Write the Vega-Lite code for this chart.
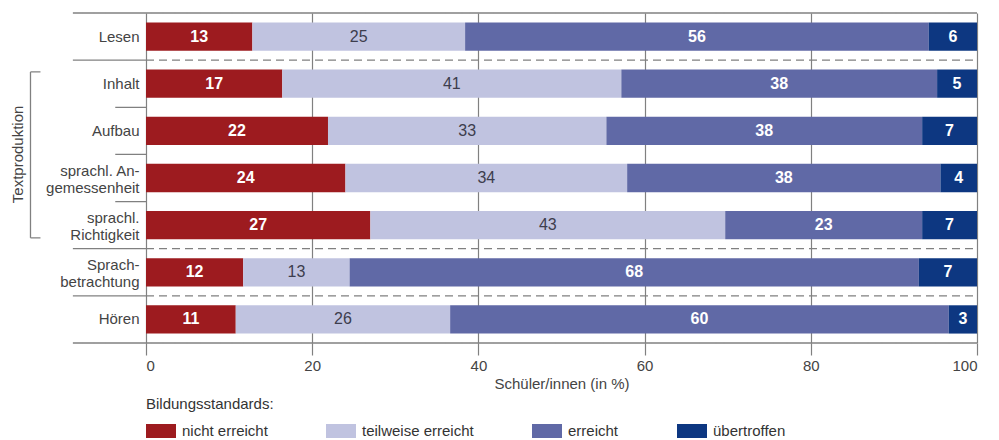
{
  "$schema": "https://vega.github.io/schema/vega-lite/v6.json",
  "width": 831,
  "height": 330,
  "autosize": {"type": "none"},
  "padding": {"left": 146, "top": 13, "right": 22, "bottom": 97},
  "background": "white",
  "config": {"font": "Liberation Sans", "view": {"stroke": null}},
  "datasets": {
    "bars": [
      {"row": "Lesen", "category": "nicht erreicht", "order": 1, "value": 12.8, "label": 13},
      {"row": "Lesen", "category": "teilweise erreicht", "order": 2, "value": 25.6, "label": 25},
      {"row": "Lesen", "category": "erreicht", "order": 3, "value": 55.8, "label": 56},
      {"row": "Lesen", "category": "übertroffen", "order": 4, "value": 5.8, "label": 6},
      {"row": "Inhalt", "category": "nicht erreicht", "order": 1, "value": 16.4, "label": 17},
      {"row": "Inhalt", "category": "teilweise erreicht", "order": 2, "value": 40.8, "label": 41},
      {"row": "Inhalt", "category": "erreicht", "order": 3, "value": 38.0, "label": 38},
      {"row": "Inhalt", "category": "übertroffen", "order": 4, "value": 4.8, "label": 5},
      {"row": "Aufbau", "category": "nicht erreicht", "order": 1, "value": 21.9, "label": 22},
      {"row": "Aufbau", "category": "teilweise erreicht", "order": 2, "value": 33.5, "label": 33},
      {"row": "Aufbau", "category": "erreicht", "order": 3, "value": 38.0, "label": 38},
      {"row": "Aufbau", "category": "übertroffen", "order": 4, "value": 6.6, "label": 7},
      {"row": "sprachl. Angemessenheit", "category": "nicht erreicht", "order": 1, "value": 24.0, "label": 24},
      {"row": "sprachl. Angemessenheit", "category": "teilweise erreicht", "order": 2, "value": 33.9, "label": 34},
      {"row": "sprachl. Angemessenheit", "category": "erreicht", "order": 3, "value": 37.7, "label": 38},
      {"row": "sprachl. Angemessenheit", "category": "übertroffen", "order": 4, "value": 4.4, "label": 4},
      {"row": "sprachl. Richtigkeit", "category": "nicht erreicht", "order": 1, "value": 27.0, "label": 27},
      {"row": "sprachl. Richtigkeit", "category": "teilweise erreicht", "order": 2, "value": 42.7, "label": 43},
      {"row": "sprachl. Richtigkeit", "category": "erreicht", "order": 3, "value": 23.7, "label": 23},
      {"row": "sprachl. Richtigkeit", "category": "übertroffen", "order": 4, "value": 6.6, "label": 7},
      {"row": "Sprachbetrachtung", "category": "nicht erreicht", "order": 1, "value": 11.7, "label": 12},
      {"row": "Sprachbetrachtung", "category": "teilweise erreicht", "order": 2, "value": 12.8, "label": 13},
      {"row": "Sprachbetrachtung", "category": "erreicht", "order": 3, "value": 68.5, "label": 68},
      {"row": "Sprachbetrachtung", "category": "übertroffen", "order": 4, "value": 7.0, "label": 7},
      {"row": "Hören", "category": "nicht erreicht", "order": 1, "value": 10.8, "label": 11},
      {"row": "Hören", "category": "teilweise erreicht", "order": 2, "value": 25.8, "label": 26},
      {"row": "Hören", "category": "erreicht", "order": 3, "value": 60.0, "label": 60},
      {"row": "Hören", "category": "übertroffen", "order": 4, "value": 3.4, "label": 3}
    ],
    "lines": [
      {"pos": 0, "x0": -8.8, "x1": 100, "style": "solid"},
      {"pos": 1, "x0": -8.8, "x1": 0, "style": "solid"},
      {"pos": 1, "x0": 0, "x1": 100, "style": "dashed"},
      {"pos": 2, "x0": -3.7, "x1": 0, "style": "solid"},
      {"pos": 3, "x0": -3.7, "x1": 0, "style": "solid"},
      {"pos": 4, "x0": -3.7, "x1": 0, "style": "solid"},
      {"pos": 5, "x0": -8.8, "x1": 0, "style": "solid"},
      {"pos": 5, "x0": 0, "x1": 100, "style": "dashed"},
      {"pos": 6, "x0": -8.8, "x1": 0, "style": "solid"},
      {"pos": 6, "x0": 0, "x1": 100, "style": "dashed"},
      {"pos": 7, "x0": -8.8, "x1": 100, "style": "solid"},
      {"pos": 1.25, "x0": -13.9, "x1": -12.7, "style": "solid"},
      {"pos": 4.77, "x0": -13.9, "x1": -12.7, "style": "solid"}
    ],
    "bracket": [{"x": -13.9, "pos0": 1.25, "pos1": 4.77}],
    "group": [{"text": "Textproduktion", "x": -15.4, "pos": 3.0}]
  },
  "resolve": {"scale": {"y": "independent"}},
  "layer": [
    {
      "data": {"name": "bars"},
      "layer": [
        {
          "mark": {"type": "bar"},
          "encoding": {
            "y": {
              "field": "row", "type": "nominal",
              "sort": ["Lesen", "Inhalt", "Aufbau", "sprachl. Angemessenheit", "sprachl. Richtigkeit", "Sprachbetrachtung", "Hören"],
              "scale": {"paddingInner": 0.4, "paddingOuter": 0.2},
              "axis": {
                "title": null, "ticks": false, "domain": false, "labelFontSize": 15, "labelColor": "#444444",
                "labelPadding": 7, "labelLimit": 300, "labelLineHeight": 17,
                "labelOffset": {"condition": {"test": "datum.value == 'sprachl. Angemessenheit' || datum.value == 'sprachl. Richtigkeit' || datum.value == 'Sprachbetrachtung'", "value": -7}, "value": 0},
                "labelExpr": "datum.label == 'sprachl. Angemessenheit' ? ['sprachl. An-', 'gemessenheit'] : datum.label == 'sprachl. Richtigkeit' ? ['sprachl.', 'Richtigkeit'] : datum.label == 'Sprachbetrachtung' ? ['Sprach-', 'betrachtung'] : datum.label"
              }
            },
            "x": {
              "field": "value", "type": "quantitative", "stack": "zero",
              "scale": {"domain": [0, 100], "nice": false},
              "axis": {
                "title": "Schüler/innen (in %)", "values": [0, 20, 40, 60, 80, 100], "grid": true,
                "gridColor": "#808080", "gridWidth": 1.2, "tickColor": "#808080", "tickWidth": 1.2, "tickSize": 12,
                "domain": false, "labelFontSize": 15, "labelColor": "#444444", "labelPadding": 3,
                "titleFontSize": 15, "titleFontWeight": "normal", "titleColor": "#444444", "titlePadding": 3
              }
            },
            "color": {
              "field": "category", "type": "nominal",
              "scale": {"domain": ["nicht erreicht", "teilweise erreicht", "erreicht", "übertroffen"], "range": ["#9d1b1f", "#c0c3e0", "#6069a6", "#0d3781"]},
              "legend": {
                "title": "Bildungsstandards:", "orient": "none", "legendX": 0, "legendY": 384, "direction": "horizontal",
                "titleFontSize": 15, "titleFontWeight": "normal", "titleColor": "#333333", "titlePadding": 9,
                "labelFontSize": 15, "labelColor": "#333333", "labelOffset": 16, "columnPadding": 58,
                "symbolType": "M-1,-0.7L2,-0.7L2,0.7L-1,0.7Z", "symbolSize": 400, "symbolStrokeWidth": 0, "symbolOpacity": 1
              }
            },
            "order": {"field": "order"}
          }
        },
        {
          "transform": [
            {"stack": "value", "groupby": ["row"], "sort": [{"field": "order"}], "as": ["v0", "v1"]},
            {"calculate": "(datum.v0 + datum.v1) / 2", "as": "mid"},
            {"filter": "datum.category != 'teilweise erreicht'"}
          ],
          "mark": {"type": "text", "color": "white", "fontWeight": "bold", "fontSize": 16, "baseline": "middle"},
          "encoding": {
            "y": {"field": "row", "type": "nominal", "sort": ["Lesen", "Inhalt", "Aufbau", "sprachl. Angemessenheit", "sprachl. Richtigkeit", "Sprachbetrachtung", "Hören"]},
            "x": {"field": "mid", "type": "quantitative", "scale": {"domain": [0, 100], "nice": false},
              "axis": {
                "title": "Schüler/innen (in %)", "values": [0, 20, 40, 60, 80, 100], "grid": true,
                "gridColor": "#808080", "gridWidth": 1.2, "tickColor": "#808080", "tickWidth": 1.2, "tickSize": 12,
                "domain": false, "labelFontSize": 15, "labelColor": "#444444", "labelPadding": 3,
                "titleFontSize": 15, "titleFontWeight": "normal", "titleColor": "#444444", "titlePadding": 3
              }},
            "text": {"field": "label"}
          }
        },
        {
          "transform": [
            {"stack": "value", "groupby": ["row"], "sort": [{"field": "order"}], "as": ["v0", "v1"]},
            {"calculate": "(datum.v0 + datum.v1) / 2", "as": "mid"},
            {"filter": "datum.category == 'teilweise erreicht'"}
          ],
          "mark": {"type": "text", "color": "#3d3d4d", "fontSize": 16, "baseline": "middle"},
          "encoding": {
            "y": {"field": "row", "type": "nominal", "sort": ["Lesen", "Inhalt", "Aufbau", "sprachl. Angemessenheit", "sprachl. Richtigkeit", "Sprachbetrachtung", "Hören"]},
            "x": {"field": "mid", "type": "quantitative", "scale": {"domain": [0, 100], "nice": false},
              "axis": {
                "title": "Schüler/innen (in %)", "values": [0, 20, 40, 60, 80, 100], "grid": true,
                "gridColor": "#808080", "gridWidth": 1.2, "tickColor": "#808080", "tickWidth": 1.2, "tickSize": 12,
                "domain": false, "labelFontSize": 15, "labelColor": "#444444", "labelPadding": 3,
                "titleFontSize": 15, "titleFontWeight": "normal", "titleColor": "#444444", "titlePadding": 3
              }},
            "text": {"field": "label"}
          }
        }
      ]
    },
    {
      "data": {"name": "lines"},
      "mark": {"type": "rule", "color": "#808080", "strokeWidth": 1.3},
      "encoding": {
        "y": {"field": "pos", "type": "quantitative", "scale": {"domain": [0, 7], "reverse": true, "nice": false, "zero": false}, "axis": null},
        "x": {"field": "x0", "type": "quantitative", "scale": {"domain": [0, 100], "nice": false},
          "axis": {
            "title": "Schüler/innen (in %)", "values": [0, 20, 40, 60, 80, 100], "grid": true,
            "gridColor": "#808080", "gridWidth": 1.2, "tickColor": "#808080", "tickWidth": 1.2, "tickSize": 12,
            "domain": false, "labelFontSize": 15, "labelColor": "#444444", "labelPadding": 3,
            "titleFontSize": 15, "titleFontWeight": "normal", "titleColor": "#444444", "titlePadding": 3
          }},
        "x2": {"field": "x1"},
        "strokeDash": {"field": "style", "type": "nominal", "scale": {"domain": ["solid", "dashed"], "range": [[1, 0], [8, 5]]}, "legend": null}
      }
    },
    {
      "data": {"name": "bracket"},
      "mark": {"type": "rule", "color": "#808080", "strokeWidth": 1.3},
      "encoding": {
        "x": {"field": "x", "type": "quantitative", "scale": {"domain": [0, 100], "nice": false},
          "axis": {
            "title": "Schüler/innen (in %)", "values": [0, 20, 40, 60, 80, 100], "grid": true,
            "gridColor": "#808080", "gridWidth": 1.2, "tickColor": "#808080", "tickWidth": 1.2, "tickSize": 12,
            "domain": false, "labelFontSize": 15, "labelColor": "#444444", "labelPadding": 3,
            "titleFontSize": 15, "titleFontWeight": "normal", "titleColor": "#444444", "titlePadding": 3
          }},
        "y": {"field": "pos0", "type": "quantitative", "scale": {"domain": [0, 7], "reverse": true, "nice": false, "zero": false}, "axis": null},
        "y2": {"field": "pos1"}
      }
    },
    {
      "data": {"name": "group"},
      "mark": {"type": "text", "angle": 270, "fontSize": 15, "color": "#444444", "align": "center", "baseline": "middle"},
      "encoding": {
        "x": {"field": "x", "type": "quantitative", "scale": {"domain": [0, 100], "nice": false},
          "axis": {
            "title": "Schüler/innen (in %)", "values": [0, 20, 40, 60, 80, 100], "grid": true,
            "gridColor": "#808080", "gridWidth": 1.2, "tickColor": "#808080", "tickWidth": 1.2, "tickSize": 12,
            "domain": false, "labelFontSize": 15, "labelColor": "#444444", "labelPadding": 3,
            "titleFontSize": 15, "titleFontWeight": "normal", "titleColor": "#444444", "titlePadding": 3
          }},
        "y": {"field": "pos", "type": "quantitative", "scale": {"domain": [0, 7], "reverse": true, "nice": false, "zero": false}, "axis": null},
        "text": {"field": "text"}
      }
    }
  ]
}
